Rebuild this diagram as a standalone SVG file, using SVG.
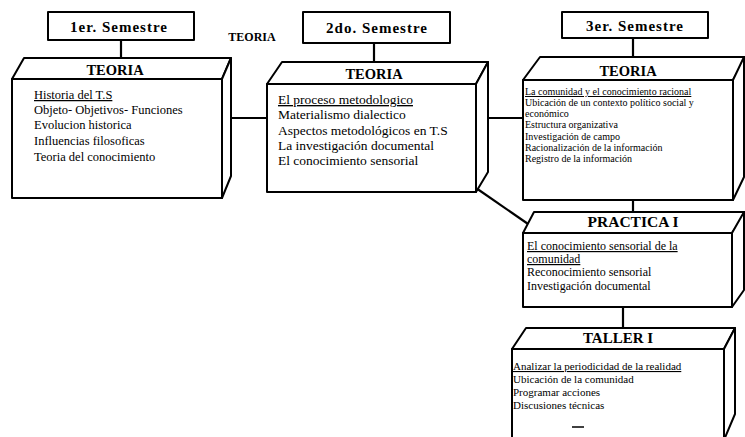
<svg xmlns="http://www.w3.org/2000/svg" width="745" height="437" viewBox="0 0 745 437">
<style>
.b{fill:#fff;stroke:#000;stroke-width:2;stroke-linejoin:round}
.c{fill:none;stroke:#000;stroke-width:2.2}
.sem{font-family:"Liberation Serif",serif;font-weight:bold;font-size:15px;letter-spacing:1px;text-anchor:middle}
.ttl{font-family:"Liberation Serif",serif;font-weight:bold;font-size:14.5px;text-anchor:middle}
.t1{font-family:"Liberation Serif",serif;font-size:12.5px}
.t2{font-family:"Liberation Serif",serif;font-size:13.5px}
.t3{font-family:"Liberation Serif",serif;font-size:10px}
.t4{font-family:"Liberation Serif",serif;font-size:12px}
.t5{font-family:"Liberation Serif",serif;font-size:11px}
.u{text-decoration:underline}
</style>
<rect width="745" height="437" fill="#fff"/>
<g id="connectors">
<path class="c" d="M121,40 V58"/>
<path class="c" d="M374,43 V62"/>
<path class="c" d="M633,38 V57"/>
<path class="c" d="M231,118 H267"/>
<path class="c" d="M488,118 H523"/>
<path class="c" d="M476,188 L531,226"/>
<path class="c" d="M633,200 V212"/>
<path class="c" d="M623,307 V328"/>
</g>
<g id="sem1"><rect class="b" x="48" y="12" width="146" height="28"/><text class="sem" x="119" y="32">1er. Semestre</text></g>
<g id="sem2"><rect class="b" x="303" y="12" width="147" height="31"/><text class="sem" x="377" y="33">2do. Semestre</text></g>
<g id="sem3"><rect class="b" x="562" y="12" width="146" height="26"/><text class="sem" x="635" y="31">3er. Semestre</text></g>
<g id="teoria-label"><text class="ttl" x="252" y="41" style="font-size:12px">TEORIA</text></g>
<g id="teoria1">
<path class="b" d="M12,79 L24,58 L231,58 L222,79 Z"/>
<path class="b" d="M222,79 L231,58 L231,176 L222,198 Z"/>
<rect class="b" x="12" y="79" width="210" height="119"/>
<text class="ttl" x="115" y="75">TEORIA</text>
<text class="t1 u" x="34" y="99">Historia del T.S</text>
<text class="t1" x="34" y="114">Objeto- Objetivos- Funciones</text>
<text class="t1" x="34" y="129">Evolucion historica</text>
<text class="t1" x="34" y="145">Influencias filosoficas</text>
<text class="t1" x="34" y="161">Teoria del conocimiento</text>
</g>
<g id="teoria2">
<path class="b" d="M267,84 L282,62 L488,62 L476,84 Z"/>
<path class="b" d="M476,84 L488,62 L488,172 L476,192 Z"/>
<rect class="b" x="267" y="84" width="209" height="108"/>
<text class="ttl" x="374" y="79">TEORIA</text>
<text class="t2 u" x="278" y="104">El proceso metodologico</text>
<text class="t2" x="278" y="119">Materialismo dialectico</text>
<text class="t2" x="278" y="135">Aspectos metodológicos en T.S</text>
<text class="t2" x="278" y="150">La investigación documental</text>
<text class="t2" x="278" y="165">El conocimiento sensorial</text>
</g>
<g id="teoria3">
<path class="b" d="M523,80 L540,57 L746,57 L733,80 Z"/>
<path class="b" d="M733,80 L744,57 L744,177 L733,200 Z"/>
<rect class="b" x="523" y="80" width="210" height="120"/>
<text class="ttl" x="628" y="76">TEORIA</text>
<text class="t3 u" x="525" y="95">La comunidad y el conocimiento racional</text>
<text class="t3" x="525" y="106">Ubicación de un contexto  político  social y</text>
<text class="t3" x="525" y="117">económico</text>
<text class="t3" x="525" y="128">Estructura organizativa</text>
<text class="t3" x="525" y="140">Investigación de campo</text>
<text class="t3" x="525" y="151">Racionalización de la información</text>
<text class="t3" x="525" y="162">Registro de la información</text>
</g>
<g id="practica1">
<path class="b" d="M523,233 L534,212 L746,212 L732,233 Z"/>
<path class="b" d="M732,233 L744,212 L744,290 L732,307 Z"/>
<rect class="b" x="523" y="233" width="209" height="74"/>
<text class="ttl" x="633" y="227" style="font-size:15.5px">PRACTICA I</text>
<text class="t4 u" x="527" y="250">El conocimiento sensorial de la</text>
<text class="t4 u" x="527" y="263">comunidad</text>
<text class="t4" x="527" y="276">Reconocimiento sensorial</text>
<text class="t4" x="527" y="290">Investigación documental</text>
</g>
<g id="taller1">
<path class="b" d="M512,349 L526,328 L735,328 L724,349 Z"/>
<path class="b" d="M724,349 L735,328 L735,414 L724,440 Z"/>
<rect class="b" x="512" y="349" width="212" height="100"/>
<text class="ttl" x="618" y="343" style="font-size:15px">TALLER I</text>
<text class="t5 u" x="513" y="370">Analizar la periodicidad de la realidad</text>
<text class="t5" x="513" y="383">Ubicación de la comunidad</text>
<text class="t5" x="513" y="396"> Programar acciones</text>
<text class="t5" x="513" y="409">Discusiones técnicas</text>
</g>
<path d="M572,427 H584" stroke="#000" stroke-width="1.5"/>
</svg>
